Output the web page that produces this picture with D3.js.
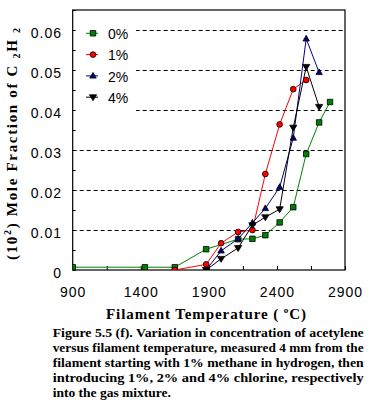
<!DOCTYPE html>
<html><head><meta charset="utf-8">
<script src="https://cdn.jsdelivr.net/npm/d3@7"></script>
<style>
html,body{margin:0;padding:0;background:#fff;}
svg{display:block;}
</style></head>
<body>
<svg id="c" width="374" height="409"></svg>
<script>
// ---- data ----
const seriesNames = ["0%", "1%", "2%", "4%"];
const temps0 = [900, 1430, 1650, 1880, 2115, 2220, 2315, 2420, 2520, 2615, 2710, 2790];
const vals0  = [0.0007, 0.0007, 0.0007, 0.0052, 0.0077, 0.0078, 0.0087, 0.0119, 0.0157, 0.0290, 0.0369, 0.0420];
const temps1 = [1650, 1880, 1990, 2115, 2220, 2315, 2420, 2520, 2615];
const vals1  = [0, 0.0014, 0.0067, 0.0095, 0.0100, 0.0240, 0.0364, 0.0452, 0.0475];
const temps2 = [1880, 1990, 2115, 2220, 2315, 2420, 2520, 2615, 2710];
const vals2  = [0, 0.0048, 0.0078, 0.0118, 0.0154, 0.0207, 0.0330, 0.0578, 0.0494];
const temps4 = [1880, 1990, 2115, 2220, 2315, 2420, 2520, 2615, 2710];
const vals4  = [0, 0.0028, 0.0055, 0.0112, 0.0132, 0.0152, 0.0356, 0.0508, 0.0408];
const xTicks = [900, 1400, 1900, 2400, 2900];
const yTicks = [0, 0.01, 0.02, 0.03, 0.04, 0.05, 0.06];
const captionLines = [
  "Figure 5.5 (f). Variation in concentration of acetylene",
  "versus filament temperature, measured 4 mm from the",
  "filament starting with 1% methane in hydrogen, then",
  "introducing 1%, 2% and 4% chlorine, respectively",
  "into the gas mixture."
];

const svg = d3.select("#c");
const L = 72.7, R = 345, T = 10, B = 270;
const x = d3.scaleLinear().domain([900, 2900]).range([L, R]);
const y = d3.scaleLinear().domain([0, 0.065]).range([B, T]);

const series = [
  {name: seriesNames[0], t: temps0, v: vals0, color: "#008000", fill: "#008000", shape: "square"},
  {name: seriesNames[1], t: temps1, v: vals1, color: "#ff0000", fill: "#ff0000", shape: "circle"},
  {name: seriesNames[2], t: temps2, v: vals2, color: "#000080", fill: "#000080", shape: "tri"},
  {name: seriesNames[3], t: temps4, v: vals4, color: "#000000", fill: "#000000", shape: "itri"}
];

function symPath(shape) {
  if (shape === "square") return d3.symbol().type(d3.symbolSquare).size(30)();
  if (shape === "circle") return d3.symbol().type(d3.symbolCircle).size(26)();
  if (shape === "tri") return "M0,-3.5L3.2,2.2L-3.2,2.2Z";
  return "M0,3.5L3.6,-2.4L-3.6,-2.4Z";
}

svg.append("defs").append("clipPath").attr("id", "pc")
  .append("rect").attr("x", L).attr("y", T).attr("width", R - L).attr("height", B - T);

// gridlines
svg.append("g").selectAll("line").data(yTicks.filter(d => d > 0)).join("line")
  .attr("x1", L).attr("x2", R).attr("y1", d => y(d) + 0.5).attr("y2", d => y(d) + 0.5)
  .attr("stroke", "#000").attr("stroke-width", 1).attr("stroke-dasharray", "4,3");

// legend background (masks gridlines)
svg.append("rect").attr("x", L + 1).attr("y", T + 1).attr("width", 136 - L - 1).attr("height", 108)
  .attr("fill", "#fff");

// axes via d3 axis generators
const yAxis = d3.axisLeft(y).tickValues(d3.range(0, 0.0651, 0.005)).tickSize(-3).tickFormat("");
svg.append("g").attr("transform", `translate(${L},0)`).call(yAxis)
  .call(g => g.select(".domain").remove())
  .selectAll("line").attr("stroke", "#000");
const xAxis = d3.axisBottom(x).tickValues(d3.range(900, 2901, 250)).tickSize(-4).tickFormat("");
svg.append("g").attr("transform", `translate(0,${B})`).call(xAxis)
  .call(g => g.select(".domain").remove())
  .selectAll("line").attr("stroke", "#000");

// frame
svg.append("rect").attr("x", L).attr("y", T).attr("width", R - L).attr("height", B - T)
  .attr("fill", "none").attr("stroke", "#000").attr("stroke-width", 1.2);

// tick labels
svg.append("g").selectAll("text").data(yTicks).join("text")
  .attr("x", 62).attr("y", d => y(d) + 8.3)
  .attr("text-anchor", "end")
  .attr("font-family", "Liberation Sans, Arial, sans-serif").attr("font-size", 14)
  .attr("letter-spacing", 1)
  .text(d => d === 0 ? "0" : d3.format(".2f")(d));
svg.append("g").selectAll("text").data(xTicks).join("text")
  .attr("x", d => x(d) + 0.5).attr("y", 296.5)
  .attr("text-anchor", "middle")
  .attr("font-family", "Liberation Sans, Arial, sans-serif").attr("font-size", 14)
  .attr("letter-spacing", 1)
  .text(d => d);

// lines
const line = d3.line().x(d => x(d[0])).y(d => y(d[1]));
const plot = svg.append("g").attr("clip-path", "url(#pc)");
series.forEach(s => {
  const pts = s.t.map((t, i) => [t, s.v[i]]);
  plot.append("path").attr("d", line(pts)).attr("fill", "none")
    .attr("stroke", s.color).attr("stroke-width", 1);
});
series.forEach(s => {
  const pts = s.t.map((t, i) => [t, s.v[i]]);
  plot.append("g").selectAll("path").data(pts).join("path")
    .attr("d", symPath(s.shape))
    .attr("transform", d => `translate(${x(d[0])},${y(d[1])})`)
    .attr("fill", s.fill).attr("stroke", "#000").attr("stroke-width", 0.8);
});

// legend
const legY = [33.3, 54.6, 75.9, 97.2];
series.forEach((s, i) => {
  const g = svg.append("g");
  g.append("line").attr("x1", 86).attr("x2", 98).attr("y1", legY[i]).attr("y2", legY[i])
    .attr("stroke", s.color).attr("stroke-width", 1);
  g.append("path").attr("d", symPath(s.shape)).attr("transform", `translate(93,${legY[i]})`)
    .attr("fill", s.fill).attr("stroke", "#000").attr("stroke-width", 0.8);
  g.append("text").attr("x", 108).attr("y", legY[i] + 5.7)
    .attr("font-family", "Liberation Sans, Arial, sans-serif").attr("font-size", 14)
    .text(s.name);
});

// axis titles
const xt = svg.append("text").attr("x", 206).attr("y", 318.5).attr("text-anchor", "middle")
  .attr("font-family", "Liberation Serif, Times New Roman, serif").attr("font-weight", "bold")
  .attr("font-size", 15).attr("textLength", 200).attr("lengthAdjust", "spacing");
xt.append("tspan").text("Filament Temperature ( ");
xt.append("tspan").attr("font-size", 9).attr("dy", -6).text("o");
xt.append("tspan").attr("dy", 6).text("C)");

const yt = svg.append("text").attr("transform", "translate(16.5,144) rotate(-90)")
  .attr("text-anchor", "middle")
  .attr("font-family", "Liberation Serif, Times New Roman, serif").attr("font-weight", "bold")
  .attr("font-size", 15).attr("textLength", 232).attr("lengthAdjust", "spacing");
yt.append("tspan").text("(10");
yt.append("tspan").attr("font-size", 10).attr("dy", -6).text("2");
yt.append("tspan").attr("dy", 6).text(") Mole Fraction of C ");
yt.append("tspan").attr("font-size", 10).attr("dy", 3).text("2");
yt.append("tspan").attr("dy", -3).text("H ");
yt.append("tspan").attr("font-size", 10).attr("dy", 3).text("2");

// caption
const capBase = [337, 352, 367, 382, 397];
captionLines.forEach((t, i) => {
  const el = svg.append("text").attr("x", 52.7).attr("y", capBase[i])
    .attr("font-family", "Liberation Serif, Times New Roman, serif").attr("font-weight", "bold")
    .attr("font-size", 13.5).text(t);
  if (i < captionLines.length - 1) el.attr("textLength", 311).attr("lengthAdjust", "spacingAndGlyphs");
});
</script>
</body></html>
